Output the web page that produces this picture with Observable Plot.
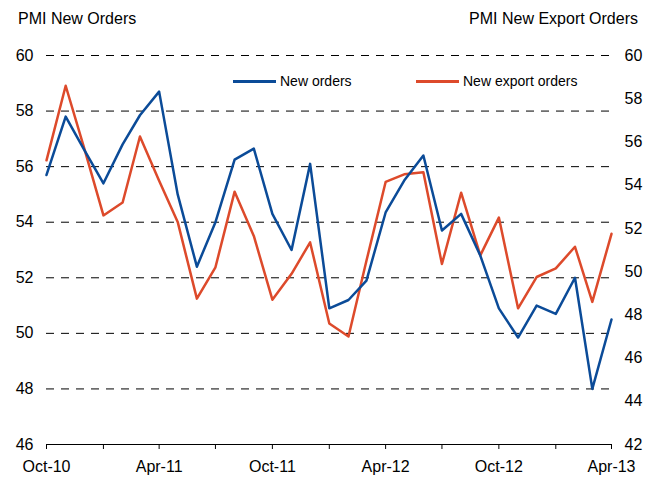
<!DOCTYPE html>
<html>
<head>
<meta charset="utf-8">
<script src="https://cdn.jsdelivr.net/npm/d3@7"></script>
<script src="https://cdn.jsdelivr.net/npm/@observablehq/plot@0.6"></script>
<style>
  html, body { margin: 0; padding: 0; background: #fff; }
  #wrap { position: relative; width: 656px; height: 477px; font-family: "Liberation Sans", Arial, sans-serif; color: #000; }
  .title { position: absolute; top: 10px; font-size: 16px; white-space: nowrap; }
  .leg { position: absolute; top: 73px; font-size: 14px; white-space: nowrap; display: flex; align-items: center; }
  .leg span.sw { display: inline-block; width: 43px; height: 3px; margin-right: 4px; }
</style>
</head>
<body>
<div id="wrap">
  <div id="chart"></div>
  <div class="title" style="left:18px">PMI New Orders</div>
  <div class="title" style="right:18px">PMI New Export Orders</div>
  <div class="leg" style="left:233px"><span class="sw" style="background:#0b4b98"></span>New orders</div>
  <div class="leg" style="left:416px"><span class="sw" style="background:#dd4a2b"></span>New export orders</div>
</div>
<script>
const months = ["2010-10","2010-11","2010-12","2011-01","2011-02","2011-03","2011-04","2011-05","2011-06","2011-07","2011-08","2011-09","2011-10","2011-11","2011-12","2012-01","2012-02","2012-03","2012-04","2012-05","2012-06","2012-07","2012-08","2012-09","2012-10","2012-11","2012-12","2013-01","2013-02","2013-03","2013-04"];
const newOrders = [55.7,57.8,56.6,55.4,56.8,57.85,58.7,55.0,52.4,54.0,56.25,56.65,54.3,53.0,56.1,50.9,51.2,51.9,54.35,55.5,56.4,53.7,54.3,52.8,50.9,49.85,51.0,50.7,52.0,48.0,50.5];
const newExportOrders = [55.15,58.6,55.7,52.6,53.2,56.25,54.2,52.3,48.75,50.2,53.7,51.65,48.7,49.9,51.35,47.6,47.0,50.5,54.15,54.5,54.6,50.35,53.65,50.75,52.5,48.3,49.75,50.15,51.15,48.6,51.75];
const leftTicks = [46,48,50,52,54,56,58,60];
const rightTicks = [42,44,46,48,50,52,54,56,58,60];
const quarterTicks = ["2010-10","2011-01","2011-04","2011-07","2011-10","2012-01","2012-04","2012-07","2012-10","2013-01","2013-04"];
const labelTicks = ["2010-10","2011-04","2011-10","2012-04","2012-10","2013-04"];

const parse = d3.utcParse("%Y-%m");
const toLeft = v => 46 + (v - 42) * 14 / 18;
const fromLeft = v => 42 + (v - 46) * 18 / 14;

const dataA = months.map((m, i) => ({date: parse(m), v: newOrders[i]}));
const dataB = months.map((m, i) => ({date: parse(m), v: newExportOrders[i]}));

const chart = Plot.plot({
  width: 656,
  height: 477,
  marginTop: 55,
  marginBottom: 33,
  marginLeft: 46,
  marginRight: 45,
  style: {fontFamily: "'Liberation Sans', Arial, sans-serif", fontSize: "16px", background: "white", color: "#000"},
  x: {type: "utc", domain: [parse(months[0]), parse(months[months.length - 1])]},
  y: {domain: [46, 60]},
  marks: [
    Plot.gridY(leftTicks.filter(d => d > 46), {stroke: "#000", strokeOpacity: 1, strokeWidth: 1, strokeDasharray: "8,7"}),
    Plot.axisY(leftTicks, {anchor: "left", tickSize: 0, tickPadding: 13, fontSize: 16, label: null}),
    Plot.axisY(rightTicks.map(toLeft), {anchor: "right", tickSize: 0, tickPadding: 13, fontSize: 16, label: null, tickFormat: d => String(Math.round(fromLeft(d)))}),
    Plot.ruleY([46], {stroke: "#000", strokeWidth: 1}),
    Plot.axisX(quarterTicks.map(parse), {anchor: "bottom", tickSize: 5, tickFormat: () => "", label: null, stroke: "#000"}),
    Plot.axisX(labelTicks.map(parse), {anchor: "bottom", tickSize: 0, tickPadding: 16, fontSize: 16, label: null, tickFormat: d3.utcFormat("%b-%y")}),
    Plot.lineY(dataB, {x: "date", y: d => toLeft(d.v), stroke: "#dd4a2b", strokeWidth: 2.5}),
    Plot.lineY(dataA, {x: "date", y: "v", stroke: "#0b4b98", strokeWidth: 2.5})
  ]
});
document.getElementById("chart").appendChild(chart);
</script>
</body>
</html>
